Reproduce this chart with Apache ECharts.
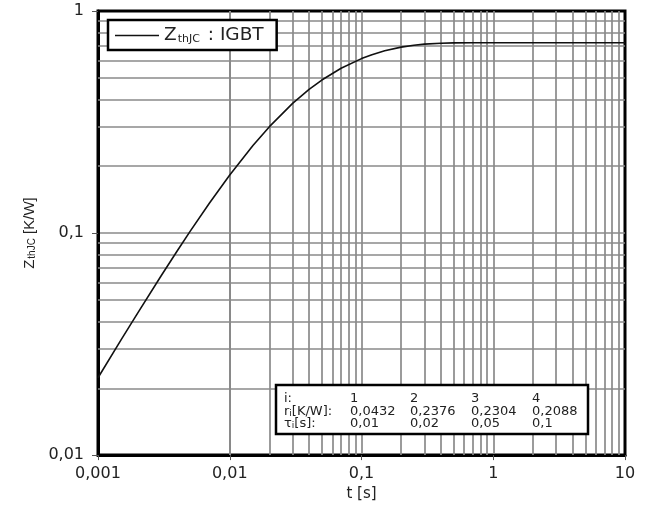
<!DOCTYPE html>
<html>
<head>
<meta charset="utf-8">
<script src="https://cdn.jsdelivr.net/npm/echarts@6/dist/echarts.min.js"></script>
<style>
  html, body { margin: 0; padding: 0; background: #fff; }
  #chart { width: 645px; height: 507px; }
</style>
</head>
<body>
<div id="chart"></div>
<script>
// Transient thermal impedance Zth(j-c) of the IGBT, t [s] vs Z [K/W]
const tValues = [0.001, 0.0015, 0.002, 0.003, 0.004, 0.005, 0.007, 0.01, 0.015, 0.02, 0.03, 0.04, 0.05, 0.07,
                 0.1, 0.12, 0.15, 0.2, 0.25, 0.3, 0.4, 0.5, 0.7, 1, 2, 10];
const zValues = [0.0223, 0.0331, 0.0436, 0.0639, 0.0832, 0.1017, 0.1361, 0.1824, 0.2477, 0.3014, 0.3837, 0.4436, 0.4888, 0.5523,
                 0.6104, 0.6356, 0.6618, 0.6875, 0.7013, 0.709, 0.7161, 0.7186, 0.7198, 0.72, 0.72, 0.72];

// Axis tick labels (one per decade)
const xTickLabels = ['0,001', '0,01', '0,1', '1', '10'];
const yTickLabels = ['0,01', '0,1', '1'];

// Foster network parameters shown in the table
const idxLabels = ['1', '2', '3', '4'];
const rValues = [0.0432, 0.2376, 0.2304, 0.2088];
const tauValues = [0.01, 0.02, 0.05, 0.1];

const X_MIN = 0.001, X_MAX = 10, Y_MIN = 0.01, Y_MAX = 1;
const GRID_COLOR = '#8a8a8a';
const TEXT_COLOR = '#222';

function minorGridValues(min, max) {
  const out = [];
  for (let e = Math.round(Math.log10(min)); e < Math.round(Math.log10(max)); e++) {
    for (let k = 2; k <= 9; k++) out.push(k * Math.pow(10, e));
  }
  return out;
}

function decadeLabel(labels, min) {
  return function (v) {
    const i = Math.round(Math.log10(v) - Math.log10(min));
    return labels[i] !== undefined ? labels[i] : '';
  };
}

const fmt = v => String(v).replace('.', ',');

const curve = tValues.map((t, i) => [t, zValues[i]]);

const chart = echarts.init(document.getElementById('chart'));

const tableLeft = 276, tableTop = 385, tableW = 312, tableH = 49;
const colX = [284, 350, 410, 471, 532];
const rowY = [399, 411.5, 423.5];
const tableFont = '13px "DejaVu Sans"';

const tableTexts = [];
const headers = ['i:', 'r{s|i}[K/W]:', 'τ{s|i}[s]:'];
const rows = [idxLabels, rValues.map(fmt), tauValues.map(fmt)];
headers.forEach((h, r) => {
  tableTexts.push({
    type: 'text', x: colX[0], y: rowY[r], z: 101,
    style: {
      text: h, font: tableFont, fill: TEXT_COLOR, verticalAlign: 'middle',
      rich: { s: { fontSize: 9, fontFamily: 'DejaVu Sans', fill: TEXT_COLOR, padding: [5, 0, 0, 0] } }
    }
  });
  rows[r].forEach((txt, c) => {
    tableTexts.push({
      type: 'text', x: colX[c + 1], y: rowY[r], z: 101,
      style: { text: txt, font: tableFont, fill: TEXT_COLOR, verticalAlign: 'middle' }
    });
  });
});

const gridLineStyle = { color: GRID_COLOR, width: 1.7, type: 'solid' };

chart.setOption({
  animation: false,
  backgroundColor: '#fff',
  grid: {
    left: 98, right: 20, top: 11, bottom: 44.5,
    show: true, borderColor: '#000', borderWidth: 3, backgroundColor: 'transparent'
  },
  legend: {
    left: 108, top: 20,
    data: [{ name: 'ZthJC', icon: 'rect' }],
    backgroundColor: '#fff',
    borderColor: '#000', borderWidth: 2.5, borderRadius: 0,
    padding: [6, 13, 5, 7],
    itemWidth: 44, itemHeight: 1.5,
    itemStyle: { color: '#111' },
    formatter: () => '{a|Z}{b|thJC}{a| : IGBT}',
    textStyle: {
      color: TEXT_COLOR,
      rich: {
        a: { fontSize: 18.5, fontFamily: 'DejaVu Sans', color: TEXT_COLOR },
        b: { fontSize: 11, fontFamily: 'DejaVu Sans', color: TEXT_COLOR, padding: [7, 2, 0, 1] }
      }
    },
    z: 100
  },
  xAxis: {
    type: 'log', logBase: 10, min: X_MIN, max: X_MAX,
    name: 't [s]', nameLocation: 'middle', nameGap: 26,
    nameTextStyle: { fontSize: 15, fontFamily: 'DejaVu Sans', color: TEXT_COLOR },
    axisLine: { show: true, onZero: false, lineStyle: { color: '#000', width: 3 } },
    axisTick: { show: true, inside: false, length: 5, lineStyle: { color: '#555', width: 1 } },
    axisLabel: { formatter: decadeLabel(xTickLabels, X_MIN), fontSize: 16, fontFamily: 'DejaVu Sans', color: TEXT_COLOR, margin: 11 },
    splitLine: { show: true, showMinLine: false, showMaxLine: false, lineStyle: gridLineStyle },
    minorTick: { show: false }, minorSplitLine: { show: false }
  },
  yAxis: {
    type: 'log', logBase: 10, min: Y_MIN, max: Y_MAX,
    name: '{a|Z}{b|thJC}{a| [K/W]}', nameLocation: 'middle', nameGap: 59, nameRotate: 90,
    nameTextStyle: {
      color: TEXT_COLOR,
      rich: {
        a: { fontSize: 15, fontFamily: 'Liberation Sans', color: TEXT_COLOR },
        b: { fontSize: 10, fontFamily: 'Liberation Sans', color: TEXT_COLOR, padding: [6, 0, 0, 1] }
      }
    },
    axisLine: { show: true, onZero: false, lineStyle: { color: '#000', width: 3 } },
    axisTick: { show: true, inside: false, length: 6, lineStyle: { color: '#555', width: 1 } },
    axisLabel: { formatter: decadeLabel(yTickLabels, Y_MIN), fontSize: 16, fontFamily: 'DejaVu Sans', color: TEXT_COLOR, margin: 14 },
    splitLine: { show: true, showMinLine: false, showMaxLine: false, lineStyle: gridLineStyle },
    minorTick: { show: false }, minorSplitLine: { show: false }
  },
  series: [
    {
      // intermediate (2..9 per decade) grid lines
      name: 'minorGrid', type: 'line', data: [], z: 1, silent: true,
      markLine: {
        silent: true, symbol: ['none', 'none'], animation: false,
        label: { show: false },
        lineStyle: gridLineStyle,
        data: minorGridValues(X_MIN, X_MAX).map(v => ({ xAxis: v }))
          .concat(minorGridValues(Y_MIN, Y_MAX).map(v => ({ yAxis: v })))
      }
    },
    {
      name: 'ZthJC', type: 'line', data: curve, z: 5,
      symbol: 'none', smooth: false,
      lineStyle: { color: '#111', width: 1.6, join: 'round' },
      itemStyle: { color: '#111' }
    }
  ],
  graphic: [
    {
      type: 'rect', z: 100,
      shape: { x: tableLeft, y: tableTop, width: tableW, height: tableH },
      style: { fill: '#fff', stroke: '#000', lineWidth: 2.5 }
    }
  ].concat(tableTexts)
});
</script>
</body>
</html>
